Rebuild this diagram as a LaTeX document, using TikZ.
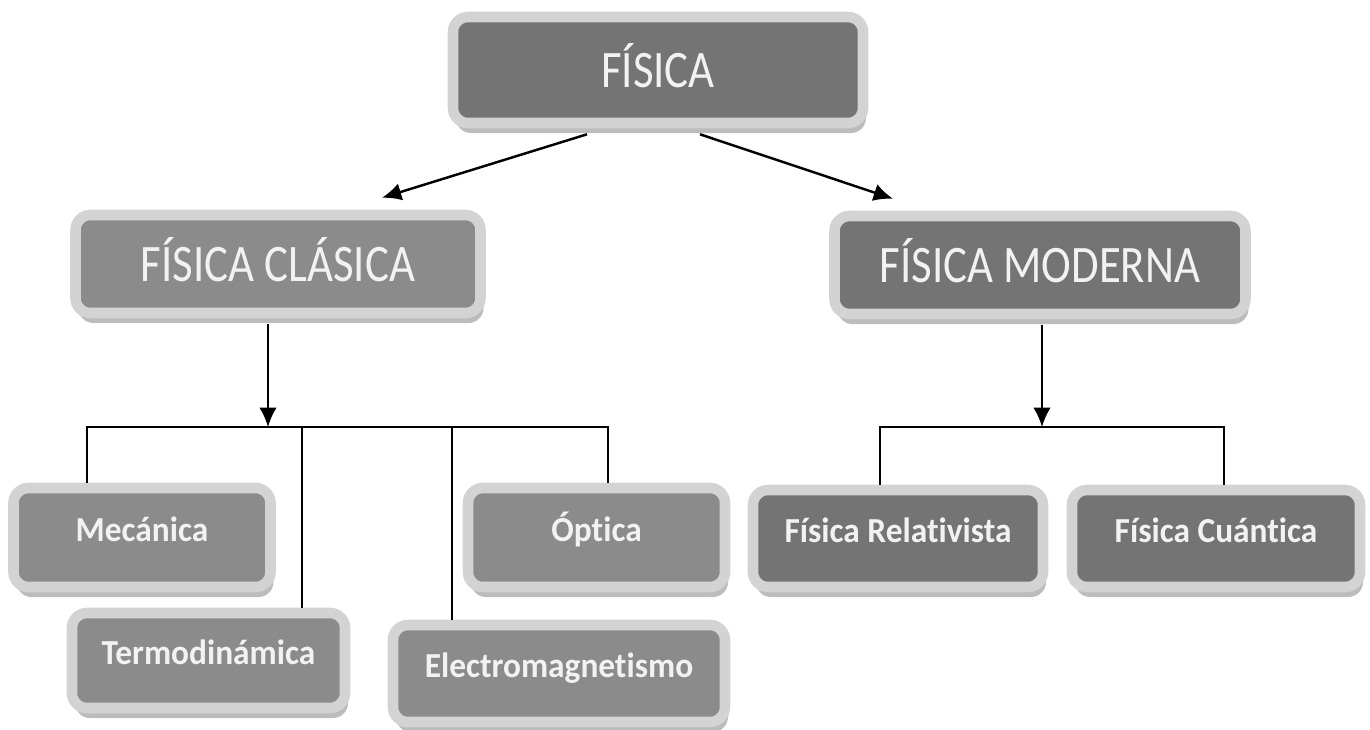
\documentclass[tikz,border=0pt]{standalone}
\usepackage{fontspec}
\setmainfont{Carlito}
\newfontfamily\titlefont{Carlito}[FakeStretch=0.85, Ligatures=NoCommon]
\newfontfamily\branchfont{Carlito}[FakeStretch=0.95, Ligatures=NoCommon]
\usepackage{xcolor}
\usepackage{tikz}
\usetikzlibrary{shapes,arrows.meta,shadows}
\definecolor{darkfill}{HTML}{747474}
\definecolor{lightfill}{HTML}{8B8B8B}
\definecolor{rim}{HTML}{D3D3D3}
\definecolor{labeltext}{HTML}{F2F2F2}
\tikzstyle{box} = [rectangle, draw=rim, line width=3pt, rounded corners=0.15cm, inner sep=0pt,
  text=labeltext, text centered, drop shadow={shadow xshift=0.03cm, shadow yshift=-0.1cm, fill=gray!75, opacity=0.7}]
\tikzstyle{titlebox} = [box, font=\titlefont\fontsize{15}{18}\selectfont, text height=0.4cm, text depth=0.05cm]
\tikzstyle{branchbox} = [box, font=\branchfont\bfseries\fontsize{10}{12}\selectfont, text height=0.25cm, text depth=0.18cm]
\tikzstyle{line} = [draw, line width=0.7pt, -{Latex[length=5.5pt,width=5pt]}]
\tikzstyle{bus} = [draw, line width=0.7pt]

\begin{document}
\begin{tikzpicture}
\useasboundingbox (0,0) rectangle (13.7,-7.29);
\node [titlebox, fill=darkfill, minimum width=4.10cm, minimum height=1.06cm] (fisica) at (6.58,-0.70) {FÍSICA};
\node [titlebox, fill=lightfill, minimum width=4.05cm, minimum height=0.98cm] (clasica) at (2.78,-2.64) {FÍSICA CLÁSICA};
\node [titlebox, fill=darkfill, minimum width=4.11cm, minimum height=0.98cm] (moderna) at (10.40,-2.65) {FÍSICA MODERNA};
\path [line] ([xshift=-0.71cm,yshift=-0.06cm]fisica.south) -- ([xshift=1.04cm,yshift=0.12cm]clasica.north);
\path [line] ([xshift=0.42cm,yshift=-0.06cm]fisica.south) -- ([xshift=-1.47cm,yshift=0.12cm]moderna.north);
% rama clasica
\node [branchbox, fill=lightfill, minimum width=2.57cm, minimum height=0.99cm] (mecanica) at (1.42,-5.375) {Mecánica};
\node [branchbox, fill=lightfill, minimum width=2.57cm, minimum height=0.99cm] (optica) at (5.965,-5.375) {Óptica};
\node [branchbox, fill=lightfill, minimum width=2.73cm, minimum height=0.95cm] (termo) at (2.085,-6.605) {Termodinámica};
\node [branchbox, fill=lightfill, minimum width=3.32cm, minimum height=0.97cm] (electro) at (5.59,-6.735) {Electromagnetismo};
\coordinate (cbus) at (2.68,-4.27);
\path [line] ([yshift=-0.06cm]clasica.south -| cbus) -- (cbus);
\path [bus] ([xshift=-0.55cm]mecanica.north) |- ([xshift=0.115cm]optica.north |- cbus) -- ([xshift=0.115cm]optica.north);
\path [bus] ([xshift=0.935cm]termo.north) -- ([xshift=0.935cm]termo.north |- cbus);
\path [bus] ([xshift=-1.07cm]electro.north) -- ([xshift=-1.07cm]electro.north |- cbus);
% rama moderna
\node [branchbox, fill=darkfill, minimum width=2.90cm, minimum height=0.97cm] (relativista) at (8.98,-5.385) {Física Relativista};
\node [branchbox, fill=darkfill, minimum width=2.88cm, minimum height=0.97cm] (cuantica) at (12.16,-5.385) {Física Cuántica};
\coordinate (mbus) at (10.42,-4.27);
\path [line] ([yshift=-0.06cm]moderna.south -| mbus) -- (mbus);
\path [bus] ([xshift=-0.18cm]relativista.north) |- ([xshift=0.08cm]cuantica.north |- mbus) -- ([xshift=0.08cm]cuantica.north);
\end{tikzpicture}
\end{document}
